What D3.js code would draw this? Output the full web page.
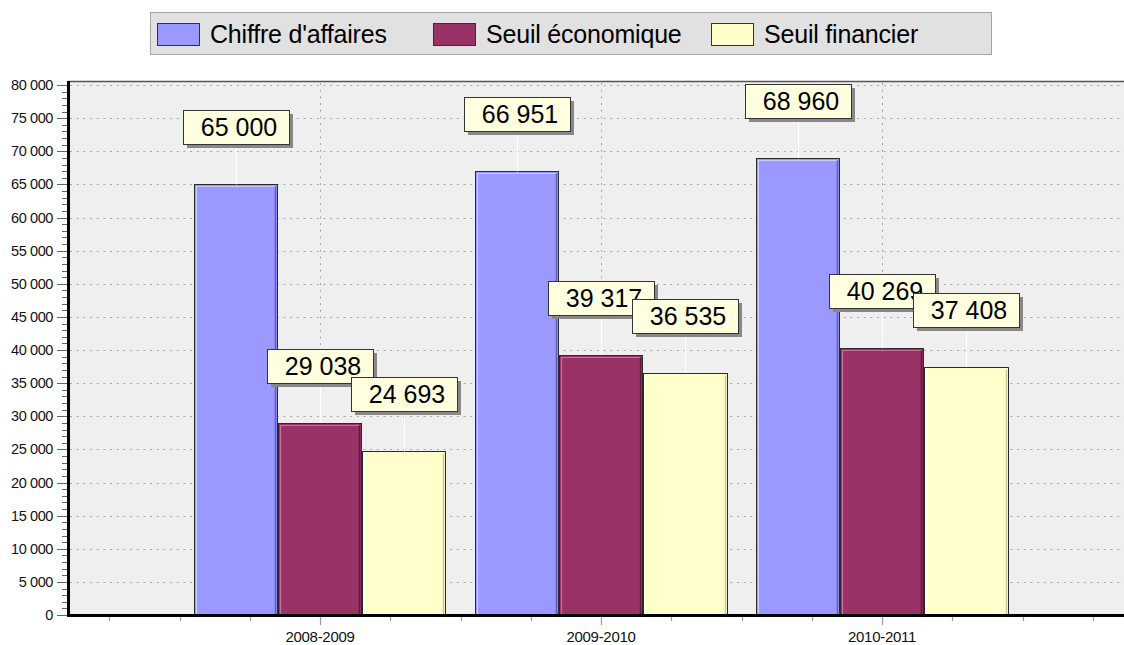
<!DOCTYPE html>
<html><head><meta charset="utf-8">
<script src="https://cdn.jsdelivr.net/npm/d3@7"></script>
<style>body{margin:0;background:#fff}svg{display:block;font-family:"Liberation Sans",Arial,sans-serif}</style>
</head><body><svg id="c" width="1124" height="645"></svg>
<script>
const categories = ["2008-2009","2009-2010","2010-2011"];
const seriesNames = ["Chiffre d'affaires","Seuil économique","Seuil financier"];
const chiffre = [65000, 66951, 68960];
const seuilEco = [29038, 39317, 40269];
const seuilFin = [24693, 36535, 37408];
const yTicks = [0,5000,10000,15000,20000,25000,30000,35000,40000,45000,50000,55000,60000,65000,70000,75000,80000];
const colors = ["#9999FF","#993366","#FFFFCC"];
const lights = ["#C8C8FF","#D06A9C","#FFFFF2"];
const darks = ["#5C5CC0","#5E1A3C","#C8C898"];

const svg = d3.select("#c");
const fmt = v => d3.format(",")(v).replace(/,/g," ");
const values = [chiffre, seuilEco, seuilFin];

const y = d3.scaleLinear().domain([0,80000]).range([615,85]);
const x0 = d3.scaleBand().domain(categories).range([179.5,1022.5]).padding(0);
const x1 = d3.scaleBand().domain(seriesNames).range([14, x0.bandwidth()-14]).padding(0);

// plot background
svg.append("rect").attr("x",68).attr("y",81).attr("width",1124-68).attr("height",615-81).attr("fill","#EFEFEF");
svg.append("line").attr("x1",68).attr("x2",1124).attr("y1",81.5).attr("y2",81.5).attr("stroke","#555").attr("stroke-width",1.5);

// horizontal grid
svg.append("g").selectAll("line").data(yTicks.filter(d=>d>0)).join("line")
  .attr("x1",70).attr("x2",1124).attr("y1",d=>Math.round(y(d))+0.5).attr("y2",d=>Math.round(y(d))+0.5)
  .attr("stroke","#a6a6a6").attr("stroke-dasharray","2 4.67");
// vertical grid at category centers
svg.append("g").selectAll("line").data(categories).join("line")
  .attr("x1",d=>Math.round(x0(d)+x0.bandwidth()/2)+0.5).attr("x2",d=>Math.round(x0(d)+x0.bandwidth()/2)+0.5)
  .attr("y1",83).attr("y2",614).attr("stroke","#a6a6a6").attr("stroke-dasharray","2 4.67");

// bars
const bars = [];
categories.forEach((c,ci)=>{
  seriesNames.forEach((s,si)=>{
    bars.push({c, s, si, v: values[si][ci], x: x0(c)+x1(s), w: x1.bandwidth()});
  });
});
const bg = svg.append("g");
bars.forEach(b=>{
  const x = Math.round(b.x), w = Math.round(b.x + b.w) - x, top = Math.round(y(b.v)), bot = 614;
  bg.append("rect").attr("x",x+0.5).attr("y",top+0.5).attr("width",w-1).attr("height",bot-top)
    .attr("fill",colors[b.si]).attr("stroke","#2a2a2a").attr("stroke-width",1);
  bg.append("path").attr("d",`M${x+2.5},${bot}V${top+2.5}H${x+w-3}`).attr("fill","none").attr("stroke",lights[b.si]).attr("stroke-width",1.2);
  bg.append("path").attr("d",`M${x+w-2.5},${top+2.5}V${bot}`).attr("fill","none").attr("stroke",darks[b.si]).attr("stroke-width",1.5);
});

// connectors and labels
const lg = svg.append("g");
bars.forEach(b=>{
  const cx = Math.round(b.x + b.w/2) + 0.5, top = y(b.v);
  lg.append("line").attr("x1",cx).attr("x2",cx).attr("y1",top-40).attr("y2",top).attr("stroke","#ffffff").attr("stroke-width",1.2);
});
bars.forEach(b=>{
  const cx = b.x + b.w/2, top = y(b.v);
  const bw = 106, bh = 34, bx = Math.round(cx - bw/2), by = Math.round(top - 40 - bh);
  lg.append("rect").attr("x",bx+4).attr("y",by+4).attr("width",bw).attr("height",bh).attr("fill","#888");
  lg.append("rect").attr("x",bx+0.5).attr("y",by+0.5).attr("width",bw).attr("height",bh).attr("fill","#FFFFE0").attr("stroke","#333");
  lg.append("text").attr("x",bx+bw/2+3).attr("y",by+bh/2+9).attr("text-anchor","middle")
    .attr("font-size",25).attr("fill","#000").text(fmt(b.v));
});

// y axis
const ya = svg.append("g");
d3.range(0,80001,1000).forEach(v=>{
  const major = v%5000===0;
  const yy = Math.round(y(v))+0.5;
  ya.append("line").attr("x1",major?57:62).attr("x2",67).attr("y1",yy).attr("y2",yy).attr("stroke","#666");
});
ya.selectAll("text").data(yTicks).join("text")
  .attr("x",53).attr("y",d=>y(d)+5).attr("text-anchor","end").attr("font-size",14.5).attr("letter-spacing","-0.4")
  .attr("fill","#111").text(d=>fmt(d));
svg.append("line").attr("x1",68.5).attr("x2",68.5).attr("y1",81).attr("y2",617).attr("stroke","#000").attr("stroke-width",3);

// x axis
const xa = svg.append("g");
const step = x0.bandwidth()/4;
categories.forEach(c=>{
  const cx = x0(c)+x0.bandwidth()/2;
  [-2,-1,0,1,2].forEach(k=>{
    if (c!==categories[0] && k===-2) return;
    const xx = Math.round(cx + k*step)+0.5;
    xa.append("line").attr("x1",xx).attr("x2",xx).attr("y1",617).attr("y2",k===0?625:621).attr("stroke","#999").attr("stroke-width",1.2);
  });
});
[-3,3].forEach(k=>{
  const c = k<0?categories[0]:categories[2];
  const xx = Math.round(x0(c)+x0.bandwidth()/2 + k*step)+0.5;
  xa.append("line").attr("x1",xx).attr("x2",xx).attr("y1",617).attr("y2",621).attr("stroke","#999").attr("stroke-width",1.2);
});
svg.append("line").attr("x1",67).attr("x2",1124).attr("y1",615.5).attr("y2",615.5).attr("stroke","#000").attr("stroke-width",3);
xa.selectAll("text").data(categories).join("text")
  .attr("x",d=>x0(d)+x0.bandwidth()/2).attr("y",642).attr("text-anchor","middle").attr("font-size",15).attr("letter-spacing","-0.3")
  .attr("fill","#111").text(d=>d);

// legend
const leg = svg.append("g");
leg.append("rect").attr("x",150.5).attr("y",12.5).attr("width",841).attr("height",42).attr("fill","#E1E1E1").attr("stroke","#A5A5A5");
const legX = [157, 433, 711];
seriesNames.forEach((s,i)=>{
  leg.append("rect").attr("x",legX[i]+0.5).attr("y",23.5).attr("width",42).attr("height",22).attr("fill",colors[i]).attr("stroke","#333");
  leg.append("text").attr("x",legX[i]+53).attr("y",43).attr("font-size",25).attr("letter-spacing","-0.2").attr("fill","#000").text(s);
});
</script></body></html>
